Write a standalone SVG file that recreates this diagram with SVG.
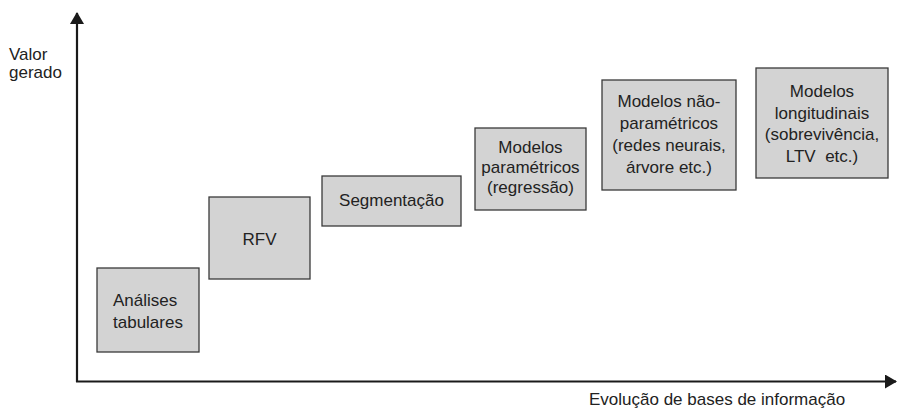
<svg xmlns="http://www.w3.org/2000/svg" width="898" height="412" viewBox="0 0 898 412">
<style>
.box{fill:#d3d3d3;stroke:#3a3a3a;stroke-width:1.3}
.t{font-family:"Liberation Sans",Arial,sans-serif;font-size:17px;fill:#222}
.c{text-anchor:middle}
.ax{stroke:#1a1a1a;stroke-width:2.2;fill:none}
</style>
<defs>
<marker id="ah" viewBox="0 0 12 14" refX="11" refY="7" markerWidth="12" markerHeight="14" markerUnits="userSpaceOnUse" orient="auto">
<path d="M0,0 L12,7 L0,14 Z" fill="#1a1a1a"/>
</marker>
</defs>
<rect width="898" height="412" fill="#fff"/>
<g id="connectors">
<line class="ax" x1="77" y1="382" x2="77" y2="13" marker-end="url(#ah)"/>
<line class="ax" x1="76" y1="381.5" x2="896" y2="381.5" marker-end="url(#ah)"/>
</g>
<g id="axis-labels">
<text class="t" x="9" y="60">Valor</text>
<text class="t" x="9" y="78">gerado</text>
<text class="t" x="589" y="405">Evolução de bases de informação</text>
</g>
<g id="n1">
<rect class="box" x="97" y="268" width="102" height="84"/>
<text class="t" x="113" y="306">Análises</text>
<text class="t" x="113" y="328">tabulares</text>
</g>
<g id="n2">
<rect class="box" x="209" y="197" width="101" height="82"/>
<text class="t c" x="259.5" y="245">RFV</text>
</g>
<g id="n3">
<rect class="box" x="322" y="176" width="139" height="50"/>
<text class="t c" x="391.5" y="206">Segmentação</text>
</g>
<g id="n4">
<rect class="box" x="475" y="128" width="111" height="82"/>
<text class="t c" x="530.5" y="153">Modelos</text>
<text class="t c" x="530.5" y="173">paramétricos</text>
<text class="t c" x="530.5" y="193">(regressão)</text>
</g>
<g id="n5">
<rect class="box" x="602" y="80" width="134" height="110"/>
<text class="t c" x="669" y="107">Modelos não-</text>
<text class="t c" x="669" y="129">paramétricos</text>
<text class="t c" x="669" y="151">(redes neurais,</text>
<text class="t c" x="669" y="173">árvore etc.)</text>
</g>
<g id="n6">
<rect class="box" x="756" y="68" width="132" height="110"/>
<text class="t c" x="822" y="97">Modelos</text>
<text class="t c" x="822" y="118.5">longitudinais</text>
<text class="t c" x="822" y="140">(sobrevivência,</text>
<text class="t c" x="822" y="162" xml:space="preserve">LTV  etc.)</text>
</g>
</svg>
